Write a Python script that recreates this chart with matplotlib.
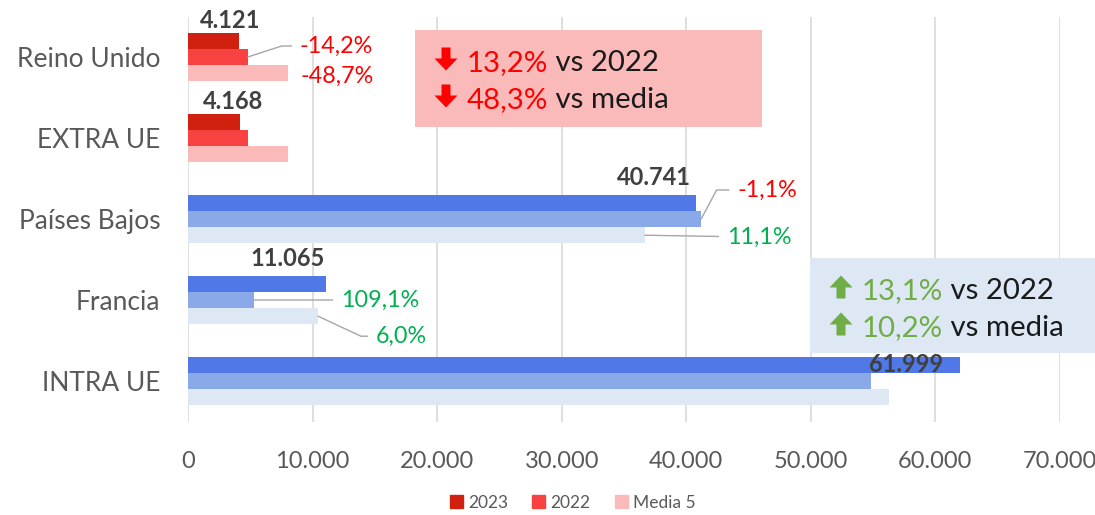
import matplotlib
matplotlib.use("Agg")
from matplotlib import pyplot as plt
from matplotlib.patches import Patch, Rectangle, Polygon
import numpy as np

plt.rcParams['font.family'] = ['Lato', 'DejaVu Sans']

categories = ['Reino Unido', 'EXTRA UE', 'Países Bajos', 'Francia', 'INTRA UE']
v2023 = [4121, 4168, 40741, 11065, 61999]
v2022 = [4803, 4800, 41194, 5292, 54818]
media5 = [8033, 8060, 36670, 10439, 56261]
value_labels = ['4.121', '4.168', '40.741', '11.065', '61.999']

# percentage labels: (category index, series, text, colour)
pct_labels = [
    (0, '2022', '-14,2%', '#FF0000'),
    (0, 'media', '-48,7%', '#FF0000'),
    (2, '2022', '-1,1%', '#FF0000'),
    (2, 'media', '11,1%', '#00B050'),
    (3, '2022', '109,1%', '#00B050'),
    (3, 'media', '6,0%', '#00B050'),
]

red_cols = ['#D0200F', '#F84242', '#FBBABA']
blue_cols = ['#5078E6', '#8AA9E8', '#DEE8F5']
is_red = [True, True, False, False, False]

xticks = np.arange(0, 70001, 10000)
xticklabels = ['0', '10.000', '20.000', '30.000', '40.000', '50.000', '60.000', '70.000']

W, H = 1095, 515
fig = plt.figure(figsize=(W / 100, H / 100), dpi=100)
ax = fig.add_axes([188 / W, 1 - 421.5 / H, (1060 - 188) / W, 405 / H])

y = np.arange(len(categories))
h = 0.2
for i in range(len(categories)):
    cols = red_cols if is_red[i] else blue_cols
    ax.barh(y[i] - h, v2023[i], height=h, color=cols[0])
    ax.barh(y[i], v2022[i], height=h, color=cols[1])
    ax.barh(y[i] + h, media5[i], height=h, color=cols[2])

ax.set_ylim(len(categories) - 0.5, -0.5)
ax.set_xlim(0, 70000)
ax.set_yticks(y)
ax.set_yticklabels(categories, fontsize=19, color='#595959')
ax.set_xticks(xticks)
ax.set_xticklabels(xticklabels, fontsize=17, color='#595959')
ax.tick_params(length=0)
ax.tick_params(axis='y', pad=20)
ax.tick_params(axis='x', pad=21)
for s in ax.spines.values():
    s.set_visible(False)
ax.grid(axis='x', color='#D9D9D9', linewidth=1.2)
ax.set_axisbelow(True)

# bold value labels above the 2023 bars
lab_off = [(21, 20), (23, 20), (-5, 25), (-1, 25), (-17, 0)]
for i in range(len(categories)):
    ax.annotate(value_labels[i], xy=(v2023[i], y[i] - h), xytext=lab_off[i],
                textcoords='offset pixels', ha='right', va='center',
                fontsize=17, fontweight='bold', color='#404040')

# percentage labels with leader lines
pct_off = {
    (0, '2022'): ((52, 11), 18),
    (0, 'media'): ((12, -3), None),
    (2, '2022'): ((36, 29), 62),
    (2, 'media'): ((82, -2), 'straight'),
    (3, '2022'): ((87, 0), 'straight'),
    (3, 'media'): ((58, -20), -25),
}
for ci, ser, txt, col in pct_labels:
    val = v2022[ci] if ser == '2022' else media5[ci]
    yy = y[ci] if ser == '2022' else y[ci] + h
    off, ang = pct_off[(ci, ser)]
    props = None
    if ang == 'straight':
        props = dict(arrowstyle='-', color='#A6A6A6', lw=1, shrinkA=4, shrinkB=0)
    elif ang is not None:
        props = dict(arrowstyle='-', color='#A6A6A6', lw=1, shrinkA=4, shrinkB=0,
                     connectionstyle='angle,angleA=0,angleB=%d,rad=0' % ang)
    ax.annotate(txt, xy=(val, yy), xytext=off, textcoords='offset pixels',
                ha='left', va='center', fontsize=16.8, color=col, arrowprops=props)


def px(x, yy):
    return (x / W, 1 - yy / H)


def block_arrow(cx, cy, up, col):
    # thick block arrow, 23 px square, centred at (cx, cy) in pixels
    s = 1 if up else -1
    pts = [(-4.5, -11.5 * s), (4.5, -11.5 * s), (4.5, -0.5 * s), (11.5, -0.5 * s),
           (0, 11.5 * s), (-11.5, -0.5 * s), (-4.5, -0.5 * s)]
    poly = Polygon([px(cx + dx, cy - dy) for dx, dy in pts], closed=True,
                   transform=fig.transFigure, facecolor=col, edgecolor='none',
                   zorder=11, clip_on=False)
    ax.add_artist(poly)


def summary_box(x0, y0, x1, y1, face, up, acol, lines):
    ax.add_artist(Rectangle(px(x0, y1), (x1 - x0) / W, (y1 - y0) / H,
                            transform=fig.transFigure, facecolor=face,
                            edgecolor='none', zorder=10, clip_on=False))
    for k, (num, rest) in enumerate(lines):
        cy = y0 + 29 + k * 37
        block_arrow(x0 + 31, cy, up, acol)
        t1 = ax.text(*px(x0 + 52, cy + 12), num, transform=fig.transFigure,
                     color=acol, fontsize=21.2, va='baseline', zorder=11,
                     clip_on=False)
        ax.annotate(rest, xy=(1, 0), xycoords=t1, va='bottom', fontsize=21.2,
                    color='#1A1A1A', zorder=11, annotation_clip=False)


summary_box(415, 30, 762, 127, '#FBBABA', False, '#FF0000',
            [('13,2%', ' vs 2022'), ('48,3%', ' vs media')])
summary_box(810, 258, 1095, 353, '#DEE8F5', True, '#70AD47',
            [('13,1%', ' vs 2022'), ('10,2%', ' vs media')])

handles = [Patch(color=c) for c in red_cols]
fig.legend(handles, ['2023', '2022', 'Media 5'], loc='lower center',
           bbox_to_anchor=(0.523, -0.022), ncol=3, frameon=False, fontsize=12.5,
           handlelength=0.75, handleheight=0.75, handletextpad=0.3, columnspacing=1.4,
           labelcolor='#595959')

fig.savefig('out.png', dpi=100)
